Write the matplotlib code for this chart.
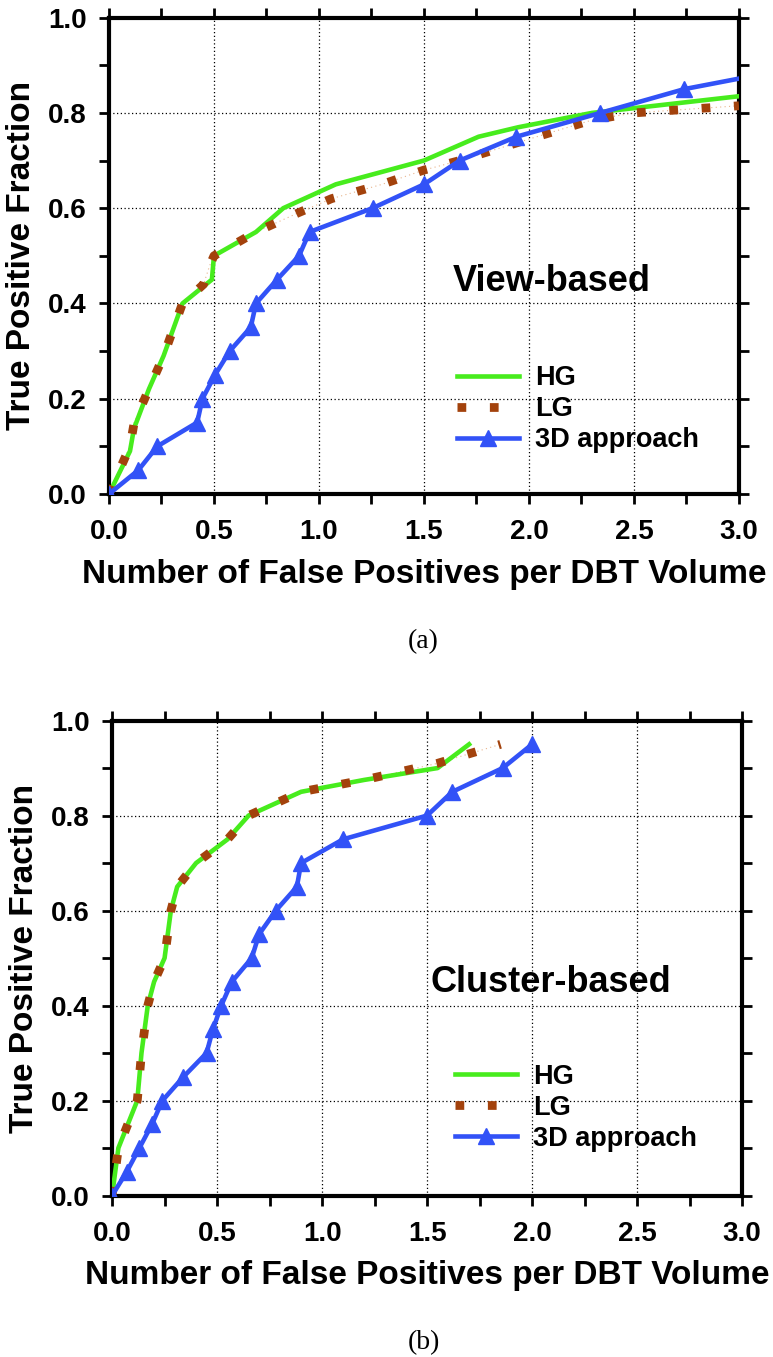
import numpy as np
import matplotlib.pyplot as plt
from matplotlib.ticker import MultipleLocator

plt.rcParams['font.family'] = ['Liberation Sans', 'DejaVu Sans']
plt.rcParams['font.weight'] = 'bold'
plt.rcParams['axes.labelweight'] = 'bold'

# (a) view-based FROC curves
view_hg_x = [0, 0.10, 0.12, 0.13, 0.19, 0.26, 0.35, 0.49, 0.50, 0.70, 0.83, 1.08, 1.50, 1.76, 1.95, 2.30, 3.0]
view_hg_y = [0, 0.09, 0.14, 0.15, 0.22, 0.29, 0.40, 0.45, 0.50, 0.55, 0.60, 0.65, 0.70, 0.75, 0.77, 0.80, 0.835]
view_lg_x = [0, 0.10, 0.12, 0.19, 0.26, 0.35, 0.45, 0.48, 0.50, 0.70, 0.90, 1.06, 1.30, 1.50, 1.67, 2.00, 2.30, 2.50, 3.0]
view_lg_y = [0, 0.10, 0.15, 0.22, 0.29, 0.40, 0.44, 0.48, 0.50, 0.55, 0.59, 0.62, 0.65, 0.68, 0.70, 0.745, 0.785, 0.80, 0.815]
view_3d_x = [0, 0.14, 0.23, 0.42, 0.445, 0.505, 0.575, 0.675, 0.70, 0.80, 0.905, 0.955, 1.255, 1.50, 1.67, 1.94, 2.34, 2.74, 3.0]
view_3d_y = [0, 0.05, 0.10, 0.15, 0.20, 0.25, 0.30, 0.35, 0.40, 0.45, 0.50, 0.55, 0.60, 0.65, 0.70, 0.75, 0.80, 0.85, 0.872]

# (b) cluster-based FROC curves
clus_hg_x = [0, 0.03, 0.12, 0.14, 0.17, 0.20, 0.25, 0.28, 0.31, 0.40, 0.55, 0.65, 0.90, 1.20, 1.55, 1.70]
clus_hg_y = [0, 0.10, 0.20, 0.30, 0.40, 0.45, 0.50, 0.60, 0.65, 0.70, 0.75, 0.80, 0.85, 0.875, 0.90, 0.95]
clus_lg_x = [0, 0.03, 0.12, 0.14, 0.17, 0.20, 0.25, 0.28, 0.31, 0.40, 0.55, 0.65, 0.90, 1.20, 1.55, 1.85]
clus_lg_y = [0, 0.10, 0.20, 0.30, 0.40, 0.45, 0.50, 0.60, 0.65, 0.70, 0.75, 0.80, 0.85, 0.875, 0.91, 0.95]
clus_3d_x = [0, 0.07, 0.13, 0.19, 0.24, 0.34, 0.45, 0.48, 0.52, 0.57, 0.665, 0.70, 0.78, 0.88, 0.90, 1.10, 1.50, 1.62, 1.86, 2.0]
clus_3d_y = [0, 0.05, 0.10, 0.15, 0.20, 0.25, 0.30, 0.35, 0.40, 0.45, 0.50, 0.55, 0.60, 0.65, 0.70, 0.75, 0.80, 0.85, 0.90, 0.95]

labels = ['HG', 'LG', '3D approach']

HG_COLOR = '#47EC1D'
LG_COLOR = '#A3420C'
TD_COLOR = '#3252F7'


def draw_panel(ax, hg, lg, td, title, title_pos, markevery, leg_anchor):
    ax.plot(lg[0], lg[1], color='#E8B48C', lw=0.8, ls=(0, (1, 3)), zorder=2)
    ax.plot(hg[0], hg[1], color=HG_COLOR, lw=3.3, label=labels[0], zorder=3)
    ax.plot(lg[0], lg[1], color=LG_COLOR, lw=6.3, ls=(0, (1, 2.7)),
            dash_capstyle='butt', label=labels[1], zorder=4)
    ax.plot(td[0], td[1], color=TD_COLOR, lw=3.3, marker='^', ms=12,
            markevery=markevery, label=labels[2], zorder=5)

    ax.set_xlim(0, 3.0)
    ax.set_ylim(0, 1.0)
    ax.xaxis.set_major_locator(MultipleLocator(0.5))
    ax.xaxis.set_minor_locator(MultipleLocator(0.25))
    ax.yaxis.set_major_locator(MultipleLocator(0.2))
    ax.yaxis.set_minor_locator(MultipleLocator(0.1))
    ax.xaxis.set_major_formatter(lambda v, p: '%.1f' % v)
    ax.yaxis.set_major_formatter(lambda v, p: '%.1f' % v)
    ax.grid(True, which='major', color='black', ls=(0, (1, 2)), lw=0.9)
    ax.tick_params(which='both', direction='out', length=7, width=2,
                   top=True, right=True, labelsize=20)
    ax.tick_params(axis='x', pad=11)
    ax.tick_params(axis='y', pad=9)
    for s in ax.spines.values():
        s.set_linewidth(3)

    ax.set_xlabel('Number of False Positives per DBT Volume', fontsize=24, labelpad=10)
    ax.set_ylabel('True Positive Fraction', fontsize=24, labelpad=8)
    ax.text(title_pos[0], title_pos[1], title, fontsize=26, ha='center', va='center')
    ax.legend(loc='upper left', bbox_to_anchor=leg_anchor, frameon=False, fontsize=19.5,
              handlelength=2.3, handletextpad=0.6, labelspacing=0.18,
              borderaxespad=0, borderpad=0)


fig = plt.figure(figsize=(7.73, 13.57), dpi=100)
ax1 = fig.add_axes([0.141, 0.636, 0.815, 0.351])
ax2 = fig.add_axes([0.145, 0.119, 0.815, 0.350])

draw_panel(ax1, (view_hg_x, view_hg_y), (view_lg_x, view_lg_y), (view_3d_x, view_3d_y),
           'View-based', (2.11, 0.447), list(range(len(view_3d_x) - 1)), (0.552, 0.27))
draw_panel(ax2, (clus_hg_x, clus_hg_y), (clus_lg_x, clus_lg_y), (clus_3d_x, clus_3d_y),
           'Cluster-based', (2.09, 0.448), None, (0.544, 0.277))

fig.text(0.548, 1 - 642 / 1357, '(a)', fontsize=20, fontweight='normal',
         family='Liberation Serif', ha='center', va='center')
fig.text(0.548, 1 - 1343 / 1357, '(b)', fontsize=20, fontweight='normal',
         family='Liberation Serif', ha='center', va='center')

fig.savefig('out.png', dpi=100)
